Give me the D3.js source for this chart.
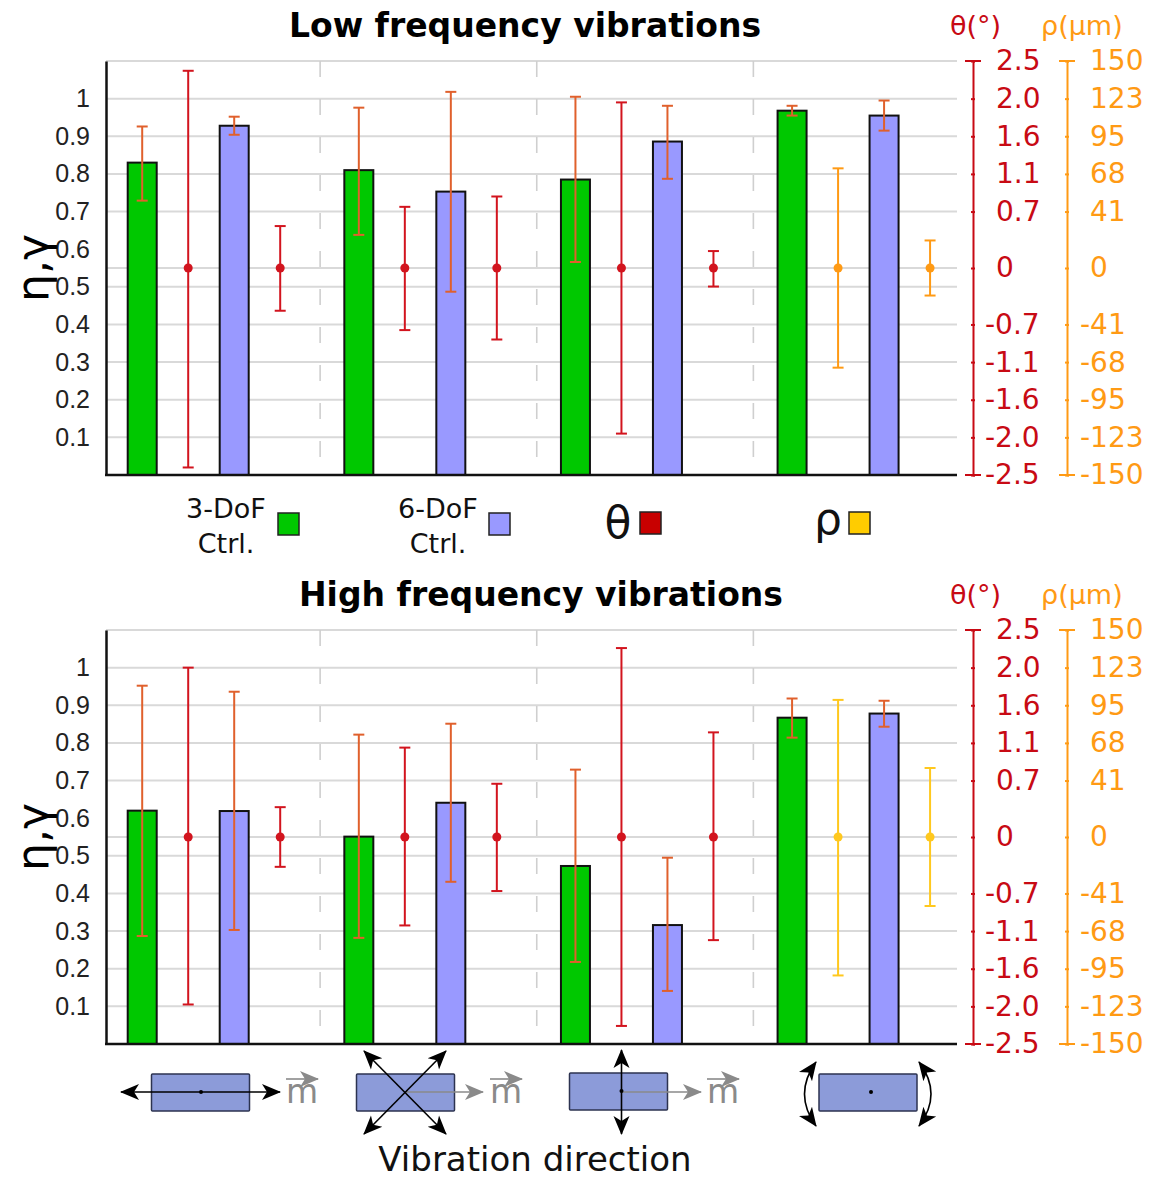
<!DOCTYPE html>
<html>
<head>
<meta charset="utf-8">
<script src="https://cdn.jsdelivr.net/npm/d3@7"></script>
<style>
    html, body { margin: 0; padding: 0; background: #fff; }
    svg { display: block; }
    text { font-family: "DejaVu Sans", sans-serif; }
</style>
</head>
<body>
<svg id="chart" width="1160" height="1177"></svg>
<script>
// values
var groups = ["in-plane", "diagonal", "normal", "rotation"];
var etaTicks = [0.1, 0.2, 0.3, 0.4, 0.5, 0.6, 0.7, 0.8, 0.9, 1];
var etaStops = [0, 0.1, 0.2, 0.3, 0.4, 0.55, 0.7, 0.8, 0.9, 1, 1.1];
var thetaTicks = [-2.5, -2.0, -1.6, -1.1, -0.7, 0, 0.7, 1.1, 1.6, 2.0, 2.5];
var rhoTicks = [-150, -123, -95, -68, -41, 0, 41, 68, 95, 123, 150];

var lowEta3 = [0.83, 0.81, 0.785, 0.968];
var lowEta3Err = [[0.729, 0.926], [0.638, 0.976], [0.566, 1.005], [0.955, 0.981]];
var lowEta6 = [0.928, 0.753, 0.886, 0.955];
var lowEta6Err = [[0.904, 0.952], [0.487, 1.018], [0.787, 0.981], [0.915, 0.995]];
var lowTheta3 = [[-2.4, 2.37], [-0.76, 0.75], [-1.96, 1.96]];
var lowTheta6 = [[-0.53, 0.52], [-0.86, 0.86], [-0.23, 0.21]];
var lowRho3 = [-72, 72];
var lowRho6 = [-20, 20];

var highEta3 = [0.62, 0.551, 0.473, 0.867];
var highEta3Err = [[0.287, 0.952], [0.282, 0.822], [0.218, 0.729], [0.814, 0.918]];
var highEta6 = [0.619, 0.641, 0.316, 0.878];
var highEta6Err = [[0.303, 0.936], [0.431, 0.851], [0.141, 0.495], [0.843, 0.912]];
var highTheta3 = [[-1.98, 2.0], [-1.04, 1.05], [-2.26, 2.26]];
var highTheta6 = [[-0.37, 0.37], [-0.67, 0.66], [-1.22, 1.24]];
var highRho3 = [-100, 99];
var highRho6 = [-50, 50];

var GREEN = "#00c800", BLUE = "#9999ff", RED = "#c80a14", ORANGE = "#ff9a14",
    GOLD = "#ffc81e", BAR_ERR = "#e0602c", DARK = "#111";
var PANEL_HEIGHT = 414;
var LEFT = 106, GRID_RIGHT = 957, THETA_X = 973, RHO_X = 1067;

var svg = d3.select("#chart");

var groupX = d3.scaleBand().domain(groups).range([103.5, 970]);
var slotX = d3.scalePoint().domain(["eta3", "angle3", "eta6", "angle6"]).range([38.7, 176.7]);

function xAt(group, slot) {
    return groupX(group) + slotX(slot);
}

// one head-and-shaft arrow marker per colour
function addMarker(defs, id, color) {
    defs.append("marker")
        .attr("id", id)
        .attr("markerUnits", "userSpaceOnUse")
        .attr("markerWidth", 22).attr("markerHeight", 20)
        .attr("refX", 18).attr("refY", 10)
        .attr("orient", "auto-start-reverse")
        .append("path")
        .attr("d", "M0,2 L19,10 L0,18 L5,10 Z")
        .attr("fill", color);
}

var defs = svg.append("defs");
addMarker(defs, "head-dark", "#000");
addMarker(defs, "head-grey", "#8a8a8a");

function errorBar(g, x, y0, y1, color) {
    var capW = 5.5;
    g.append("line").attr("x1", x).attr("x2", x).attr("y1", y0).attr("y2", y1)
        .attr("stroke", color).attr("stroke-width", 2);
    [y0, y1].forEach(function (cy) {
        g.append("line").attr("x1", x - capW).attr("x2", x + capW).attr("y1", cy).attr("y2", cy)
            .attr("stroke", color).attr("stroke-width", 2);
    });
}

function drawPanel(top, title, titleX, d) {
    var g = svg.append("g").attr("transform", "translate(0," + top + ")");

    var y = d3.scaleLinear().domain([0, 1.1]).range([PANEL_HEIGHT, 0]);
    var stopsPx = etaStops.map(y);
    var thetaY = d3.scaleLinear().domain(thetaTicks).range(stopsPx);
    var rhoY = d3.scaleLinear().domain(rhoTicks).range(stopsPx);

    // grid
    g.append("g").selectAll("line").data(etaStops.slice(1)).join("line")
        .attr("x1", LEFT).attr("x2", GRID_RIGHT)
        .attr("y1", y).attr("y2", y)
        .attr("stroke", "#d9d9d9").attr("stroke-width", 2);
    g.append("line")
        .attr("x1", LEFT).attr("x2", GRID_RIGHT)
        .attr("y1", y(0.5)).attr("y2", y(0.5))
        .attr("stroke", "#d9d9d9").attr("stroke-width", 2);
    g.append("g").selectAll("line").data(groups.slice(1)).join("line")
        .attr("x1", function (k) { return groupX(k); })
        .attr("x2", function (k) { return groupX(k); })
        .attr("y1", 0).attr("y2", PANEL_HEIGHT)
        .attr("stroke", "#cfcfcf").attr("stroke-width", 1.6)
        .attr("stroke-dasharray", "16 22");

    // bars
    [["eta3", d.eta3, GREEN], ["eta6", d.eta6, BLUE]].forEach(function (s) {
        g.append("g").selectAll("rect").data(s[1]).join("rect")
            .attr("x", function (v, i) { return xAt(groups[i], s[0]) - 14.5; })
            .attr("y", function (v) { return y(v); })
            .attr("width", 29)
            .attr("height", function (v) { return PANEL_HEIGHT - y(v); })
            .attr("fill", s[2]).attr("stroke", DARK).attr("stroke-width", 2);
    });

    // bar spread
    [["eta3", d.eta3Err], ["eta6", d.eta6Err]].forEach(function (s) {
        s[1].forEach(function (e, i) {
            errorBar(g, xAt(groups[i], s[0]), y(e[0]), y(e[1]), BAR_ERR);
        });
    });

    // angle spread around the zero of the right axes
    function spread(slot, group, range, scale, color) {
        var x = xAt(group, slot);
        errorBar(g, x, scale(range[0]), scale(range[1]), color);
        g.append("circle").attr("cx", x).attr("cy", scale(0)).attr("r", 4.5).attr("fill", color);
    }
    d.theta3.forEach(function (r, i) { spread("angle3", groups[i], r, thetaY, "#d2141e"); });
    d.theta6.forEach(function (r, i) { spread("angle6", groups[i], r, thetaY, "#d2141e"); });
    spread("angle3", groups[3], d.rho3, rhoY, d.rhoColor);
    spread("angle6", groups[3], d.rho6, rhoY, d.rhoColor);

    // left axis
    var leftAxis = d3.axisLeft(y).tickValues(etaTicks).tickSize(0).tickPadding(0)
        .tickFormat(function (v) { return v === 1 ? "1" : d3.format(".1f")(v); });
    var la = g.append("g").attr("transform", "translate(" + LEFT + ",0)").call(leftAxis);
    la.select(".domain").attr("stroke", DARK).attr("stroke-width", 2.5);
    la.selectAll("text")
        .attr("x", -16)
        .style("font-family", "'Liberation Sans', Arial, sans-serif")
        .style("font-size", "25px")
        .attr("fill", "#222");

    g.append("line").attr("x1", LEFT - 1).attr("x2", GRID_RIGHT)
        .attr("y1", PANEL_HEIGHT).attr("y2", PANEL_HEIGHT)
        .attr("stroke", DARK).attr("stroke-width", 2.5);

    // right axes
    function rightAxis(scale, ticks, fmt, x, color, posX, negX) {
        var axis = d3.axisRight(scale).tickValues(ticks).tickSize(2).tickFormat(fmt);
        var a = g.append("g").attr("transform", "translate(" + x + ",0)").call(axis);
        a.select(".domain").attr("stroke", color).attr("stroke-width", 2);
        a.selectAll("line").attr("stroke", color).attr("stroke-width", 2).attr("x1", -2);
        a.selectAll("text")
            .attr("x", function (v) { return v < 0 ? negX : posX; })
            .attr("fill", color)
            .style("font-size", "28px");
        [ticks[0], ticks[ticks.length - 1]].forEach(function (v) {
            g.append("line").attr("x1", x - 8).attr("x2", x + 8)
                .attr("y1", scale(v)).attr("y2", scale(v))
                .attr("stroke", color).attr("stroke-width", 2);
        });
    }
    rightAxis(thetaY, thetaTicks, function (v) { return v === 0 ? "0" : d3.format(".1f")(v).replace("\u2212", "-"); },
        THETA_X, RED, 23, 12);
    rightAxis(rhoY, rhoTicks, function (v) { return String(v); }, RHO_X, ORANGE, 23, 13);

    // titles
    svg.append("text").attr("x", titleX).attr("y", top - 24)
        .attr("text-anchor", "middle")
        .style("font-size", "33px").style("font-weight", "bold")
        .attr("fill", "#000").text(title);
    svg.append("text").attr("x", 950).attr("y", top - 26)
        .style("font-size", "27px").attr("fill", RED).text("\u03b8(\u00b0)");
    svg.append("text").attr("x", 1041).attr("y", top - 26)
        .style("font-size", "27px").attr("fill", ORANGE).text("\u03c1(\u00b5m)");
    svg.append("text")
        .attr("transform", "translate(48," + (top + 207) + ") rotate(-90)")
        .attr("text-anchor", "middle")
        .style("font-size", "44px").attr("fill", "#000").text("\u03b7,\u03b3");
}

drawPanel(61, "Low frequency vibrations", 525, {
    eta3: lowEta3, eta3Err: lowEta3Err, eta6: lowEta6, eta6Err: lowEta6Err,
    theta3: lowTheta3, theta6: lowTheta6, rho3: lowRho3, rho6: lowRho6, rhoColor: ORANGE
});
drawPanel(630, "High frequency vibrations", 541, {
    eta3: highEta3, eta3Err: highEta3Err, eta6: highEta6, eta6Err: highEta6Err,
    theta3: highTheta3, theta6: highTheta6, rho3: highRho3, rho6: highRho6, rhoColor: GOLD
});

// legend
function swatch(x, y, color) {
    svg.append("rect").attr("x", x).attr("y", y).attr("width", 21).attr("height", 22)
        .attr("fill", color).attr("stroke", "#222").attr("stroke-width", 1.5);
}
function legendText(x, y, size, str) {
    svg.append("text").attr("x", x).attr("y", y).attr("text-anchor", "middle")
        .style("font-size", size + "px").attr("fill", "#111").text(str);
}
legendText(226, 518, 27, "3-DoF");
legendText(226, 553, 27, "Ctrl.");
swatch(278, 513, GREEN);
legendText(438, 518, 27, "6-DoF");
legendText(438, 553, 27, "Ctrl.");
swatch(489, 513, BLUE);
legendText(618, 538, 44, "\u03b8");
swatch(640, 512, "#c80000");
legendText(828, 534, 44, "\u03c1");
swatch(849, 512, "#ffcc00");

// vibration direction sketches under the lower panel
function magnet(x, y) {
    svg.append("rect").attr("x", x).attr("y", y).attr("width", 98).attr("height", 37)
        .attr("rx", 1).attr("fill", "#8c9bd9").attr("stroke", "#2c3350").attr("stroke-width", 1.5);
}
function arrow(x1, y1, x2, y2, kind, both) {
    var l = svg.append("line").attr("x1", x1).attr("y1", y1).attr("x2", x2).attr("y2", y2)
        .attr("stroke", kind === "grey" ? "#8a8a8a" : "#000")
        .attr("stroke-width", 1.6)
        .attr("marker-end", "url(#head-" + (kind === "grey" ? "grey" : "dark") + ")");
    if (both) {
        l.attr("marker-start", "url(#head-dark)");
    }
}
function pivot(x, y) {
    svg.append("circle").attr("cx", x).attr("cy", y).attr("r", 2).attr("fill", "#000");
}
function mLabel(x) {
    svg.append("text").attr("x", x).attr("y", 1103)
        .style("font-size", "33px").attr("fill", "#8a8a8a").text("m");
    arrow(x, 1079, x + 32, 1079, "grey");
}
function curved(d) {
    svg.append("path").attr("d", d).attr("fill", "none").attr("stroke", "#000")
        .attr("stroke-width", 1.6)
        .attr("marker-start", "url(#head-dark)")
        .attr("marker-end", "url(#head-dark)");
}

magnet(151.5, 1074);
arrow(121, 1092, 280, 1092, "dark", true);
pivot(201, 1092);
mLabel(286);

magnet(356.5, 1074);
arrow(405.5, 1092, 483, 1092, "grey");
arrow(364, 1051, 446, 1134, "dark", true);
arrow(364, 1134, 446, 1051, "dark", true);
mLabel(490);

magnet(569.5, 1073);
arrow(621.5, 1092, 701, 1092, "grey");
arrow(621.5, 1050, 621.5, 1134, "dark", true);
pivot(621.5, 1091);
mLabel(707);

magnet(819, 1074);
pivot(871, 1092);
curved("M816,1062 Q793,1094 816,1126");
curved("M919,1062 Q943,1094 919,1126");

svg.append("text").attr("x", 535).attr("y", 1171).attr("text-anchor", "middle")
    .style("font-size", "34px").attr("fill", "#111").text("Vibration direction");
</script>
</body>
</html>
